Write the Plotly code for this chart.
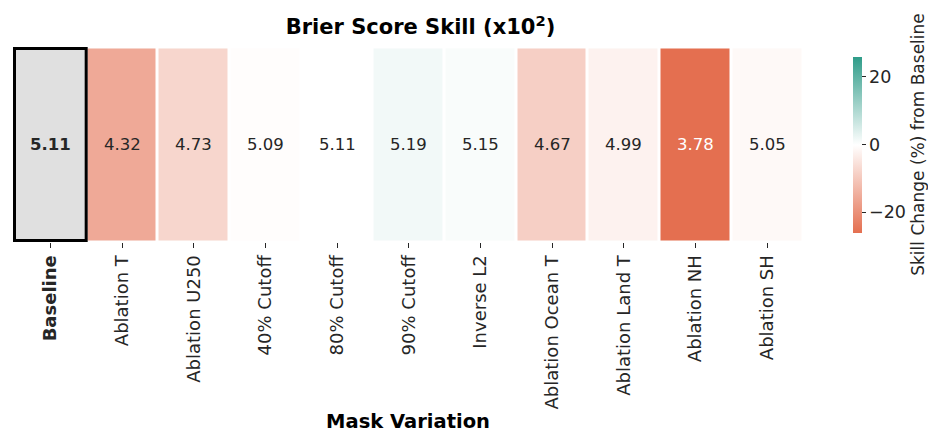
import plotly.graph_objects as go

# mask variations and their Brier score skill (x10^2)
variations = ["Baseline", "Ablation T", "Ablation U250", "40% Cutoff", "80% Cutoff",
              "90% Cutoff", "Inverse L2", "Ablation Ocean T", "Ablation Land T",
              "Ablation NH", "Ablation SH"]
skill = [5.11, 4.32, 4.73, 5.09, 5.11, 5.19, 5.15, 4.67, 4.99, 3.78, 5.05]

base = skill[0]
pct = [(s - base) / base * 100 for s in skill]
vmax = max(abs(p) for p in pct)

# baseline cell is drawn separately (grey box)
z = [[None] + pct[1:]]
labels = ["<b>Baseline</b>"] + variations[1:]

colorscale = [[0.0, "#e46f50"], [0.5, "#ffffff"], [1.0, "#2f9c89"]]

fig = go.Figure()
fig.add_trace(go.Heatmap(
    z=z, x=labels, y=["row"],
    zmin=-vmax, zmax=vmax, colorscale=colorscale,
    xgap=3, hoverinfo="skip",
    colorbar=dict(
        thickness=9, len=196, lenmode="pixels", x=1.0, xpad=50, y=0.5,
        outlinewidth=0, ticks="outside", ticklen=4, tickcolor="#262626",
        tickvals=[-20, 0, 20], ticktext=["\u221220", "0", "20"],
        tickfont=dict(size=17.5, color="#262626"),
        title=dict(text="Skill Change (%) from Baseline", side="right",
                   font=dict(size=17, color="#262626")),
    ),
))

# grey baseline box with thick black frame
fig.add_shape(type="rect", xref="x", yref="y", x0=-0.5, x1=0.5, y0=-0.5, y1=0.5,
              fillcolor="#e0e0e0", line=dict(color="black", width=3), layer="above")

for i, s in enumerate(skill):
    txt = f"{s:.2f}"
    col = "#262626"
    if i == 0:
        txt = f"<b>{txt}</b>"
    if abs(pct[i]) > 0.8 * vmax:
        col = "white"
    fig.add_annotation(x=labels[i], y="row", text=txt, showarrow=False,
                       font=dict(size=16.5, color=col))

fig.update_layout(
    width=928, height=425,
    margin=dict(l=5, r=133, t=39, b=191, autoexpand=False),
    plot_bgcolor="white", paper_bgcolor="white",
    font=dict(family="DejaVu Sans", color="#262626"),
    title=dict(text="<b>Brier Score Skill (x10<sup>2</sup>)</b>", x=0.4445, xanchor="center",
               y=0.955, yanchor="middle", font=dict(size=21, color="black")),
    xaxis=dict(tickangle=-90, tickfont=dict(size=18, color="#262626"), automargin=False,
               ticks="outside", ticklen=5, tickcolor="#262626", showgrid=False,
               title=dict(text="<b>Mask Variation</b>", font=dict(size=19.5, color="black"),
                          standoff=6)),
    yaxis=dict(visible=False, automargin=False),
)

fig.write_html("out.html")
